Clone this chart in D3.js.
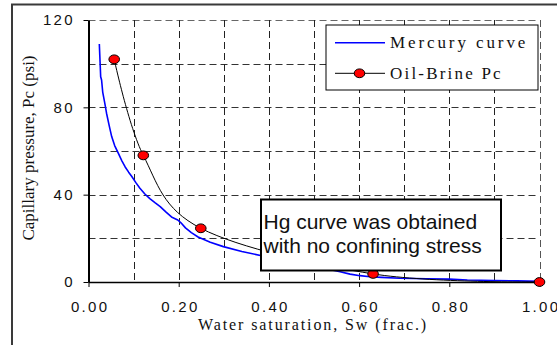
<!DOCTYPE html>
<html>
<head>
<meta charset="utf-8">
<script src="https://cdn.jsdelivr.net/npm/d3@7"></script>
<style>
  html, body { margin: 0; padding: 0; background: #fff; }
  svg { display: block; }
</style>
</head>
<body>
<svg id="chart" width="557" height="345"></svg>
<script>
// Mercury injection curve (water saturation, capillary pressure psi)
const mercurySw = [0.024, 0.025, 0.026, 0.027, 0.029, 0.0315, 0.036, 0.040, 0.046, 0.0514, 0.058, 0.066, 0.074, 0.081, 0.089, 0.096,
  0.105, 0.114, 0.125, 0.136, 0.148, 0.159, 0.172, 0.184, 0.192, 0.198, 0.205, 0.215, 0.228, 0.243, 0.27, 0.299, 0.34, 0.384,
  0.45, 0.50, 0.558, 0.58, 0.602, 0.624, 0.65, 0.69, 0.75, 0.80, 0.84, 0.90, 0.95, 1.00];
const mercuryPc = [109, 104, 99, 94, 92.5, 87, 82, 77.3, 71.5, 66.6, 62.5, 59, 55.5, 52.8, 50.3, 48.3,
  45.5, 42.9, 40.3, 38.2, 36.2, 34.5, 32, 29.8, 29.0, 28.4, 27.1, 24.8, 22.6, 20.6, 18.2, 16.2, 14.0, 12.0,
  9.4, 7.2, 4.7, 3.6, 2.9, 2.4, 2.1, 1.7, 1.5, 1.3, 0.9, 0.7, 0.5, 0.3];

// Oil-brine capillary pressure measurements
const brineSw = [0.057, 0.1215, 0.249, 0.631, 1.00];
const brinePc = [102, 58, 24.6, 3.7, 0];

const xTicks = [0, 0.2, 0.4, 0.6, 0.8, 1.0];
const yTicks = [0, 40, 80, 120];
const xGrid = [0.1, 0.2, 0.3, 0.4, 0.5, 0.6, 0.7, 0.8, 0.9, 1.0];
const yGrid = [20, 40, 60, 80, 100, 120];

const legendLabels = ["Mercury curve", "Oil-Brine Pc"];
const noteLines = ["Hg curve was obtained", "with no confining stress"];

const svg = d3.select("#chart");
const serif = "'Liberation Serif', 'Times New Roman', serif";
const sans = "'Liberation Sans', Arial, sans-serif";

const x = d3.scaleLinear().domain([0, 1]).range([88.5, 539.5]);
const y = d3.scaleLinear().domain([0, 120]).range([282, 20]);

// outer chart frame
svg.append("rect")
  .attr("x", 12).attr("y", 4.5).attr("width", 600).attr("height", 400)
  .attr("fill", "#fff").attr("stroke", "#3a3a3a").attr("stroke-width", 2);

// dashed gridlines
const grid = svg.append("g").attr("stroke", "#222").attr("stroke-width", 1)
  .attr("stroke-dasharray", "7,4").attr("fill", "none");
grid.selectAll("line.h").data(yGrid).join("line").attr("class", "h")
  .attr("x1", x(0)).attr("x2", x(1))
  .attr("y1", d => Math.round(y(d)) + 0.5).attr("y2", d => Math.round(y(d)) + 0.5)
  .attr("stroke", d => d === 120 ? "#666" : "#333");
grid.selectAll("line.v").data(xGrid).join("line").attr("class", "v")
  .attr("y1", y(120)).attr("y2", y(0))
  .attr("x1", d => Math.round(x(d)) + 0.5).attr("x2", d => Math.round(x(d)) + 0.5)
  .attr("stroke", d => d === 1.0 ? "#555" : "#222");

// mercury curve
const mercury = mercurySw.map((s, i) => [s, mercuryPc[i]]);
svg.append("path").datum(mercury)
  .attr("fill", "none").attr("stroke", "#0000ff").attr("stroke-width", 1.6)
  .attr("stroke-linejoin", "round")
  .attr("d", d3.line().x(d => x(d[0])).y(d => y(d[1])));

// oil-brine curve, smoothed
const brine = brineSw.map((s, i) => [s, brinePc[i]]);
svg.append("path").datum(brine)
  .attr("fill", "none").attr("stroke", "#000").attr("stroke-width", 1)
  .attr("d", d3.line().x(d => x(d[0])).y(d => y(d[1])).curve(d3.curveCardinal.tension(0)));

// axes
const yAxis = d3.axisLeft(y).tickValues(yTicks).tickFormat(d3.format("d"))
  .tickSize(5).tickSizeOuter(0).tickPadding(11);
const gy = svg.append("g").attr("transform", `translate(${x(0)},0)`).call(yAxis);
gy.select(".domain").attr("stroke", "#000").attr("stroke-width", 2);
gy.selectAll(".tick line").attr("stroke", "#000");
gy.selectAll(".tick text").attr("font-family", sans).attr("font-size", 15)
  .attr("letter-spacing", 2.2).attr("fill", "#111").attr("dx", 2.2);

const xAxis = d3.axisBottom(x).tickValues(xTicks).tickFormat(d3.format(".2f"))
  .tickSize(5).tickSizeOuter(0).tickPadding(14);
const gx = svg.append("g").attr("transform", `translate(0,${y(0)})`).call(xAxis);
gx.select(".domain").attr("stroke", "#000").attr("stroke-width", 1.5);
gx.selectAll(".tick line").attr("stroke", "#000");
gx.selectAll(".tick text").attr("font-family", sans).attr("font-size", 15)
  .attr("letter-spacing", 2.3).attr("fill", "#111").attr("dx", 1.15);

// markers
svg.append("g").selectAll("ellipse").data(brine).join("ellipse")
  .attr("cx", d => x(d[0])).attr("cy", d => y(d[1]))
  .attr("rx", 5.3).attr("ry", 4.4)
  .attr("fill", "#ff0000").attr("stroke", "#000").attr("stroke-width", 1);

// axis titles
svg.append("text")
  .attr("x", 313).attr("y", 330).attr("text-anchor", "middle")
  .attr("font-family", serif).attr("font-size", 16).attr("letter-spacing", 1.9)
  .attr("fill", "#111").text("Water saturation, Sw (frac.)");
svg.append("text")
  .attr("transform", "translate(34,148) rotate(-90)").attr("text-anchor", "middle")
  .attr("font-family", serif).attr("font-size", 17)
  .attr("fill", "#111").text("Capillary pressure, Pc (psi)");

// legend
const lg = svg.append("g");
lg.append("rect").attr("x", 326).attr("y", 25).attr("width", 212).attr("height", 65)
  .attr("fill", "#fff").attr("stroke", "#000").attr("stroke-width", 1);
lg.append("line").attr("x1", 335).attr("x2", 385).attr("y1", 42.7).attr("y2", 42.7)
  .attr("stroke", "#0000ff").attr("stroke-width", 1.6);
lg.append("line").attr("x1", 335).attr("x2", 385).attr("y1", 73.3).attr("y2", 73.3)
  .attr("stroke", "#000").attr("stroke-width", 1);
lg.append("ellipse").attr("cx", 359.5).attr("cy", 73.3).attr("rx", 5.3).attr("ry", 4.4)
  .attr("fill", "#ff0000").attr("stroke", "#000").attr("stroke-width", 1);
lg.selectAll("text").data(legendLabels).join("text")
  .attr("x", 390).attr("y", (d, i) => 48.3 + i * 30.3)
  .attr("font-family", serif).attr("font-size", 17)
  .attr("letter-spacing", (d, i) => i === 0 ? 2.9 : 2.2)
  .attr("fill", "#111").text(d => d);

// annotation box
const note = svg.append("g");
note.append("rect").attr("x", 261).attr("y", 199.5).attr("width", 240).attr("height", 71)
  .attr("fill", "#fff").attr("stroke", "#000").attr("stroke-width", 2);
note.selectAll("text").data(noteLines).join("text")
  .attr("x", 263.5).attr("y", (d, i) => 229.3 + i * 23.4)
  .attr("font-family", sans).attr("font-size", 21)
  .attr("fill", "#111").text(d => d);
</script>
</body>
</html>
